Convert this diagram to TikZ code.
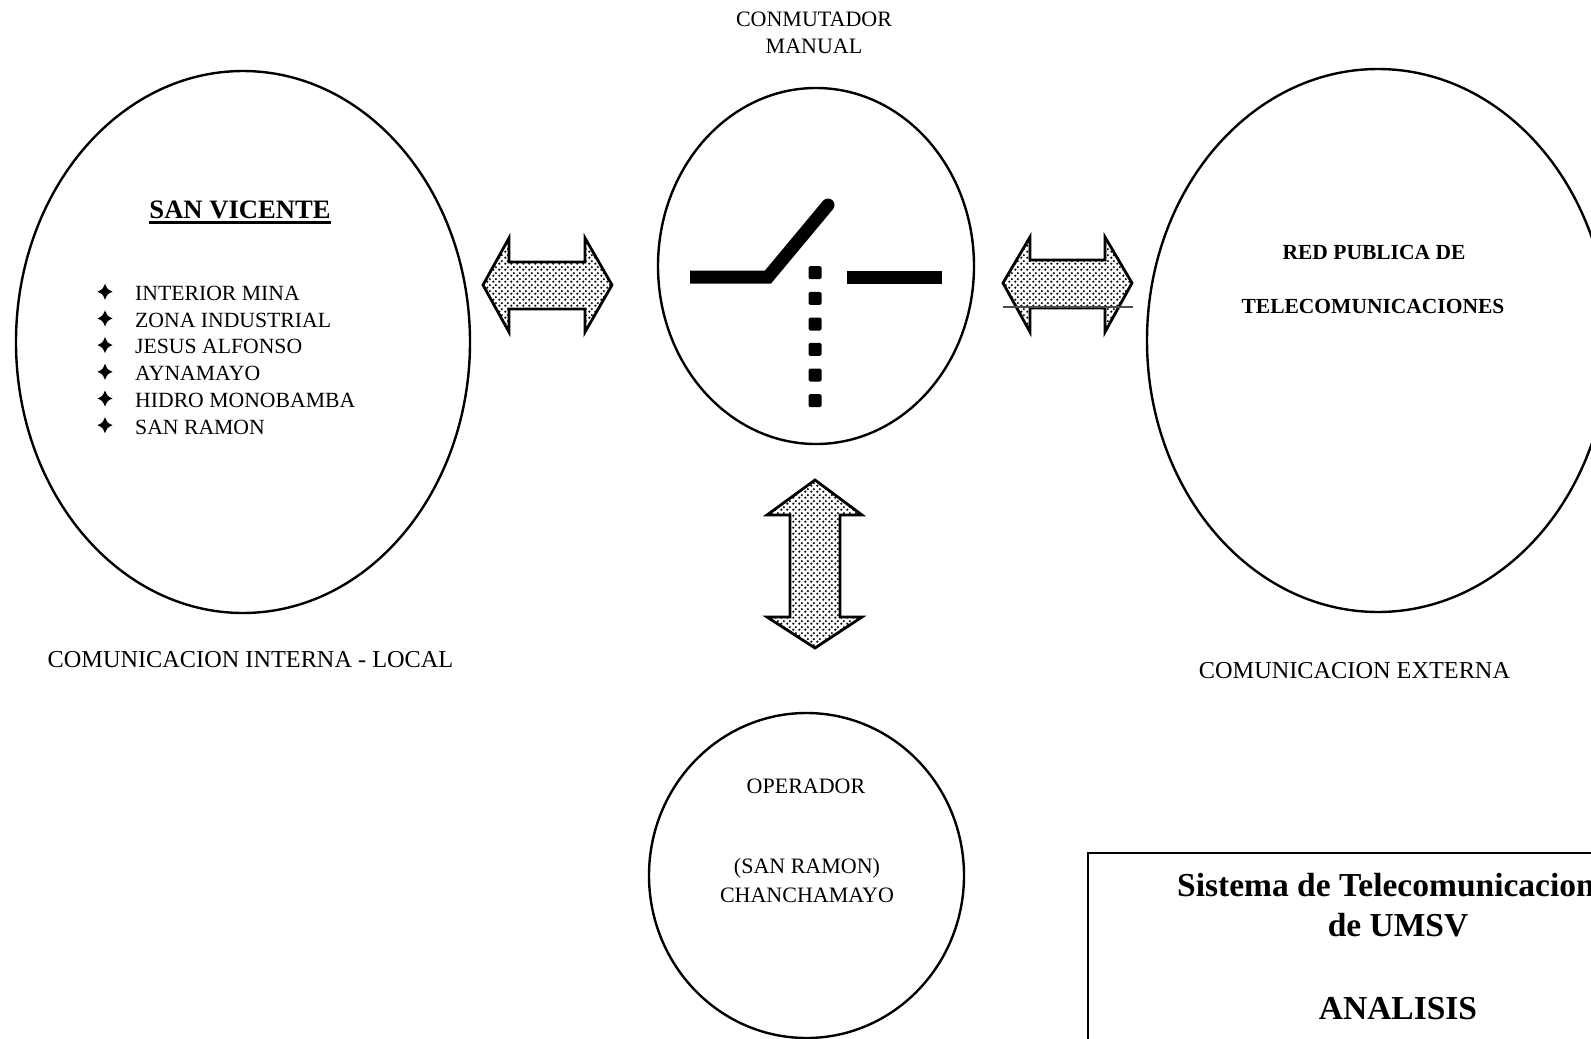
\documentclass[tikz,border=0pt]{standalone}
\usepackage{fontspec}
\setmainfont{Liberation Serif}
\usetikzlibrary{patterns,shapes.geometric,calc}

% fine dot screen used inside the block arrows
\pgfdeclarepatternformonly{finedots}{\pgfqpoint{0pt}{0pt}}{\pgfqpoint{6pt}{6pt}}{\pgfqpoint{6pt}{6pt}}{%
  \pgfpathcircle{\pgfqpoint{1.5pt}{1.5pt}}{1.4pt}%
  \pgfpathcircle{\pgfqpoint{4.5pt}{4.5pt}}{1.4pt}%
  \pgfusepath{fill}}

\begin{document}
\begin{tikzpicture}[x=1pt,y=-1pt,
  oval/.style={draw, ellipse, line width=2.4pt, inner sep=0pt},
  blockarrow/.style={draw, line width=2.8pt, line join=miter, fill=white,
                     postaction={pattern=finedots}},
  txt/.style={anchor=base, inner sep=0pt, font=\fontsize{22}{26}\selectfont},
  bigtxt/.style={anchor=base, inner sep=0pt, font=\fontsize{24.3}{28}\selectfont},
  headtxt/.style={anchor=base, inner sep=0pt, font=\fontsize{21.5}{26}\selectfont\bfseries},
  item/.style={anchor=base west, inner sep=0pt, font=\fontsize{21.7}{26}\selectfont},
  titletxt/.style={anchor=base, inner sep=0pt, font=\fontsize{33.5}{38}\selectfont\bfseries},
  switchbar/.style={line width=13pt},
]
\useasboundingbox (0,0) rectangle (1591,1039);
\clip (0,0) rectangle (1591,1039);

% --- main ovals ---
\node[oval, minimum width=454pt, minimum height=542pt] (local) at (243,342) {};
\node[oval, minimum width=316pt, minimum height=356pt] (switch) at (816,266) {};
\node[oval, minimum width=462pt, minimum height=543pt] (external) at (1378,340.5) {};
\node[oval, minimum width=315pt, minimum height=325pt] (operator) at (806.5,875.5) {};

% --- switch title ---
\node[txt] (conm) at (814,26.7) {CONMUTADOR};
\node[txt] (manual) at (814,53.3) {MANUAL};

% --- left oval contents ---
\node[anchor=base, inner sep=0pt, font=\fontsize{26.6}{30}\selectfont\bfseries] (sv) at (240,218) {SAN VICENTE};
\draw[line width=2.6pt] ($(sv.base west)+(0,4.7)$) -- ($(sv.base east)+(0,4.7)$);

\foreach \name/\txtline [count=\i from 0] in {
    i1/INTERIOR MINA, i2/ZONA INDUSTRIAL, i3/JESUS ALFONSO,
    i4/AYNAMAYO, i5/HIDRO MONOBAMBA, i6/SAN RAMON} {
  \pgfmathsetmacro{\yb}{300.5+26.7*\i}
  \node[item] (\name) at (135,\yb) {\txtline};
  \fill[shift={(105,\yb-8.8)}]
    (0,-8) .. controls (2.4,-2.4) .. (7.5,0)
           .. controls (2.4,2.4) .. (0,8)
           .. controls (-2.4,2.4) .. (-7.5,0)
           .. controls (-2.4,-2.4) .. cycle;
}

\node[bigtxt] (intlocal) at (250.5,667) {COMUNICACION INTERNA - LOCAL};

% --- right oval contents ---
\node[headtxt] (red) at (1374,259) {RED PUBLICA DE};
\node[headtxt] (tele) at (1373,313) {TELECOMUNICACIONES};
\node[bigtxt] (ext) at (1354.5,678) {COMUNICACION EXTERNA};

% --- operator oval contents ---
\node[txt] (oper) at (806,793.5) {OPERADOR};
\node[txt] (sr) at (807,873.6) {(SAN RAMON)};
\node[txt] (chan) at (807,902) {CHANCHAMAYO};

% --- switch symbol ---
\draw[switchbar, line join=miter, line cap=butt] (690,277) -- (768,277) -- (828,205);
\fill (828,205) circle (6.5pt);
\draw[switchbar] (847,277) -- (942,277);
\foreach \yc in {272.7,298.3,324,349.3,375,400.7}
  \fill[rounded corners=1.5pt] (808.5,\yc-6.5) rectangle (821.5,\yc+6.5);

% --- block arrows ---
\draw[blockarrow] (483,285) -- (509,238) -- (509,262) -- (585,262) -- (585,238)
  -- (612,285) -- (585,332) -- (585,309) -- (509,309) -- (509,332) -- cycle;
\draw[blockarrow] (1003,283) -- (1030,237) -- (1030,260) -- (1105,260) -- (1105,237)
  -- (1132,283) -- (1105,332) -- (1105,308) -- (1030,308) -- (1030,332) -- cycle;
\draw[line width=1.3pt, black!70] (1003,307) -- (1133,307);
\draw[blockarrow] (815,480) -- (862,515) -- (840,515) -- (840,617) -- (862,617)
  -- (815,648) -- (767,617) -- (790,617) -- (790,515) -- (767,515) -- cycle;

% --- title box ---
\node[draw, line width=2pt, minimum width=640pt, minimum height=220pt,
      anchor=north west, inner sep=0pt] (titlebox) at (1087,852) {};
\node[titletxt, anchor=base west] (t1) at (1177,896) {Sistema de Telecomunicaciones};
\node[titletxt] (t2) at (1398,936) {de UMSV};
\node[titletxt] (t3) at (1398,1019) {ANALISIS};
\end{tikzpicture}
\end{document}
